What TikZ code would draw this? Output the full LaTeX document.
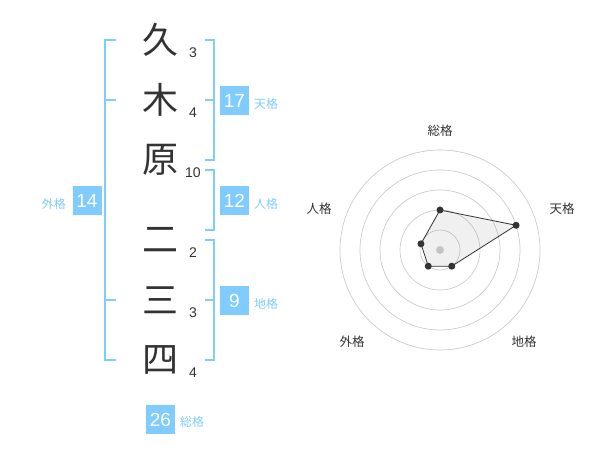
\documentclass[tikz,border=0pt]{standalone}
\usepackage{fontspec}
\usetikzlibrary{calc}
\setmainfont{Liberation Sans}
\newfontfamily\jp{Noto Sans CJK JP}
\definecolor{sky}{HTML}{80CCFF}
\definecolor{ink}{HTML}{333333}
\definecolor{ring}{HTML}{CCCCCC}
\tikzset{
  kanji/.style={font=\jp\fontsize{36}{36}\selectfont,text=ink,inner sep=0pt},
  strokes/.style={font=\fontsize{14}{14}\selectfont,text=ink,inner sep=0pt},
  score/.style={fill=sky,text=white,minimum size=29pt,inner sep=0pt,font=\fontsize{19}{19}\selectfont},
  kaku/.style={font=\jp\fontsize{12}{12}\selectfont,text=sky,inner sep=0pt},
  bracket/.style={draw=sky,line width=2pt},
  axis/.style={font=\jp\fontsize{12.5}{12.5}\selectfont,text=ink,inner sep=0pt},
  dot/.style={circle,fill=ink,inner sep=0pt,minimum size=7pt}
}
\begin{document}
\begin{tikzpicture}[x=1pt,y=-1pt]
    \useasboundingbox (0,0) rectangle (600,470);
    % name
    \node[kanji](k1) at (160,40) {久};
    \node[kanji](k2) at (160,100) {木};
    \node[kanji](k3) at (160,160) {原};
    \node[kanji](k4) at (160,240) {二};
    \node[kanji](k5) at (160,300) {三};
    \node[kanji](k6) at (160,360) {四};
    \node[strokes](n1) at (193,53) {3};
    \node[strokes](n2) at (193,113) {4};
    \node[strokes](n3) at (193,173) {10};
    \node[strokes](n4) at (193,253) {2};
    \node[strokes](n5) at (193,313) {3};
    \node[strokes](n6) at (193,373) {4};
    % brackets
    \draw[bracket] (116,40) -- (105,40) -- (105,360) -- (116,360);
    \draw[bracket] (105,100) -- (116,100);
    \draw[bracket] (105,300) -- (116,300);
    \draw[bracket] (205,40) -- (214,40) -- (214,160) -- (205,160);
    \draw[bracket] (205,100) -- (214,100);
    \draw[bracket] (205,170) -- (214,170) -- (214,230) -- (205,230);
    \draw[bracket] (205,240) -- (214,240) -- (214,360) -- (205,360);
    \draw[bracket] (205,300) -- (214,300);
    % scores
    \node[score](ten) at (234.5,100.5) {17};
    \node[kaku,anchor=west] at (254,104) {天格};
    \node[score](jin) at (234.5,200.5) {12};
    \node[kaku,anchor=west] at (254,204) {人格};
    \node[score](chi) at (234.5,300.5) {9};
    \node[kaku,anchor=west] at (254,304) {地格};
    \node[score](gai) at (87,200.5) {14};
    \node[kaku,anchor=east] at (66,204) {外格};
    \node[score](sou) at (160.5,419.5) {26};
    \node[kaku,anchor=west] at (180,422) {総格};
    % radar
    \coordinate(c) at (440,250);
    \draw[ring,line width=0.7pt] (c) circle (20);
    \draw[ring,line width=0.7pt] (c) circle (40);
    \draw[ring,line width=0.7pt] (c) circle (60);
    \draw[ring,line width=0.7pt] (c) circle (80);
    \draw[ring,line width=0.7pt] (c) circle (100);
    \fill[ring] (c) circle (4);
    \coordinate(p1) at ($(c)+(-90:40)$);
    \coordinate(p2) at ($(c)+(-18:80)$);
    \coordinate(p3) at ($(c)+(54:20)$);
    \coordinate(p4) at ($(c)+(126:20)$);
    \coordinate(p5) at ($(c)+(198:20)$);
    \draw[ink,line width=0.8pt,fill=black!40,fill opacity=0.15] (p1) -- (p2) -- (p3) -- (p4) -- (p5) -- cycle;
    \node[dot] at (p1) {};
    \node[dot] at (p2) {};
    \node[dot] at (p3) {};
    \node[dot] at (p4) {};
    \node[dot] at (p5) {};
    \node[axis](a1) at (440,131) {総格};
    \node[axis](a2) at (562,209) {天格};
    \node[axis](a3) at (524,342) {地格};
    \node[axis](a4) at (352,342) {外格};
    \node[axis](a5) at (319,209) {人格};
  \end{tikzpicture}
\end{document}
